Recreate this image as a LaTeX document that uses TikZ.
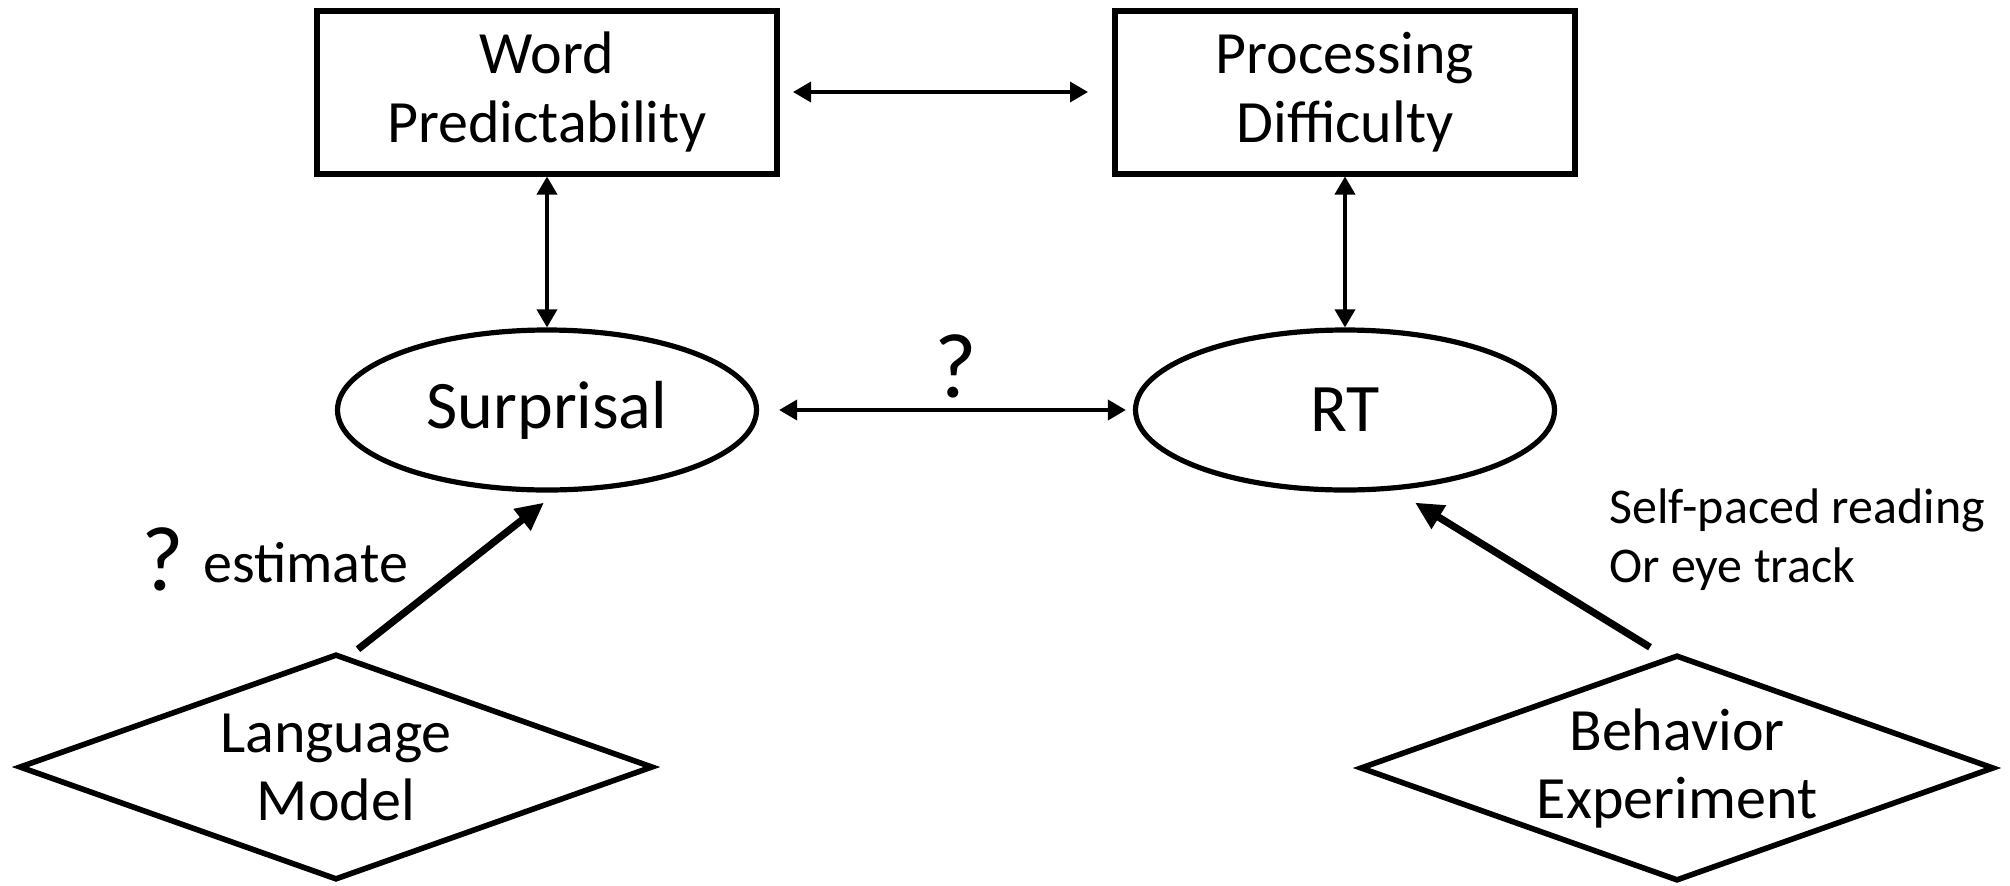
\documentclass[tikz,border=0pt]{standalone}
\usepackage{fontspec}
\setmainfont{Carlito}
\usetikzlibrary{shapes.geometric,arrows.meta}
\begin{document}
\begin{tikzpicture}[x=0.5pt,y=-0.5pt,
  box/.style={draw, line width=3pt, minimum width=230pt, minimum height=81.5pt, inner sep=0pt, align=center, font=\fontsize{30}{34.5}\selectfont},
  oval/.style={draw, ellipse, line width=2.6pt, minimum width=209.5pt, minimum height=80pt, inner sep=0pt, font=\fontsize{34}{40}\selectfont},
  dia/.style={draw, diamond, aspect=2.8, line width=2.8pt, minimum width=317pt, minimum height=113pt, inner sep=0pt, align=center, font=\fontsize{30}{34}\selectfont},
  dblarrow/.style={line width=1.8pt, {Triangle[length=9pt,width=10pt]}-{Triangle[length=9pt,width=10pt]}},
  fatarrow/.style={line width=3.6pt, -{Triangle[length=14pt,width=13pt]}},
  qmark/.style={inner sep=0pt, anchor=base, font=\fontsize{46}{50}\selectfont},
  lbl/.style={inner sep=0pt, anchor=base west},
]
\useasboundingbox (0,0) rectangle (2010,885);
\node[box] (wp) at (547,92) {Word\\Predictability};
\node[box] (pd) at (1345,92) {Processing\\Difficulty};
\node[oval] (sur) at (547,410) {Surprisal};
\node[oval] (rt) at (1345,410) {RT};
\node[dia] (lm) at (336,767) {Language\\Model};
\node[dia] (be) at (1677,768) {Behavior\\Experiment};

\draw[dblarrow, shorten <=6.5pt, shorten >=12pt] (wp.east) -- (pd.west);
\draw[dblarrow] (wp.south) -- (sur.north);
\draw[dblarrow] (pd.south) -- (rt.north);
\draw[dblarrow, shorten <=10pt, shorten >=3.5pt] (sur.east) -- (rt.west);
\draw[fatarrow] ([xshift=11pt,yshift=1pt]lm.north) -- ([xshift=-1.5pt,yshift=-5pt]sur.south);
\draw[fatarrow] ([xshift=-13.5pt,yshift=2.5pt]be.north) -- ([xshift=35pt,yshift=-5pt]rt.south);

\node[qmark] (q1) at (956,397) {?};
\node[qmark] (q2) at (163,590) {?};
\node[lbl, font=\fontsize{29}{33}\selectfont] (est) at (203,582) {estimate};
\node[lbl, font=\fontsize{25}{30}\selectfont] (spr) at (1609,523) {Self-paced reading};
\node[lbl, font=\fontsize{25}{30}\selectfont] (oet) at (1609,582) {Or eye track};
\end{tikzpicture}
\end{document}
